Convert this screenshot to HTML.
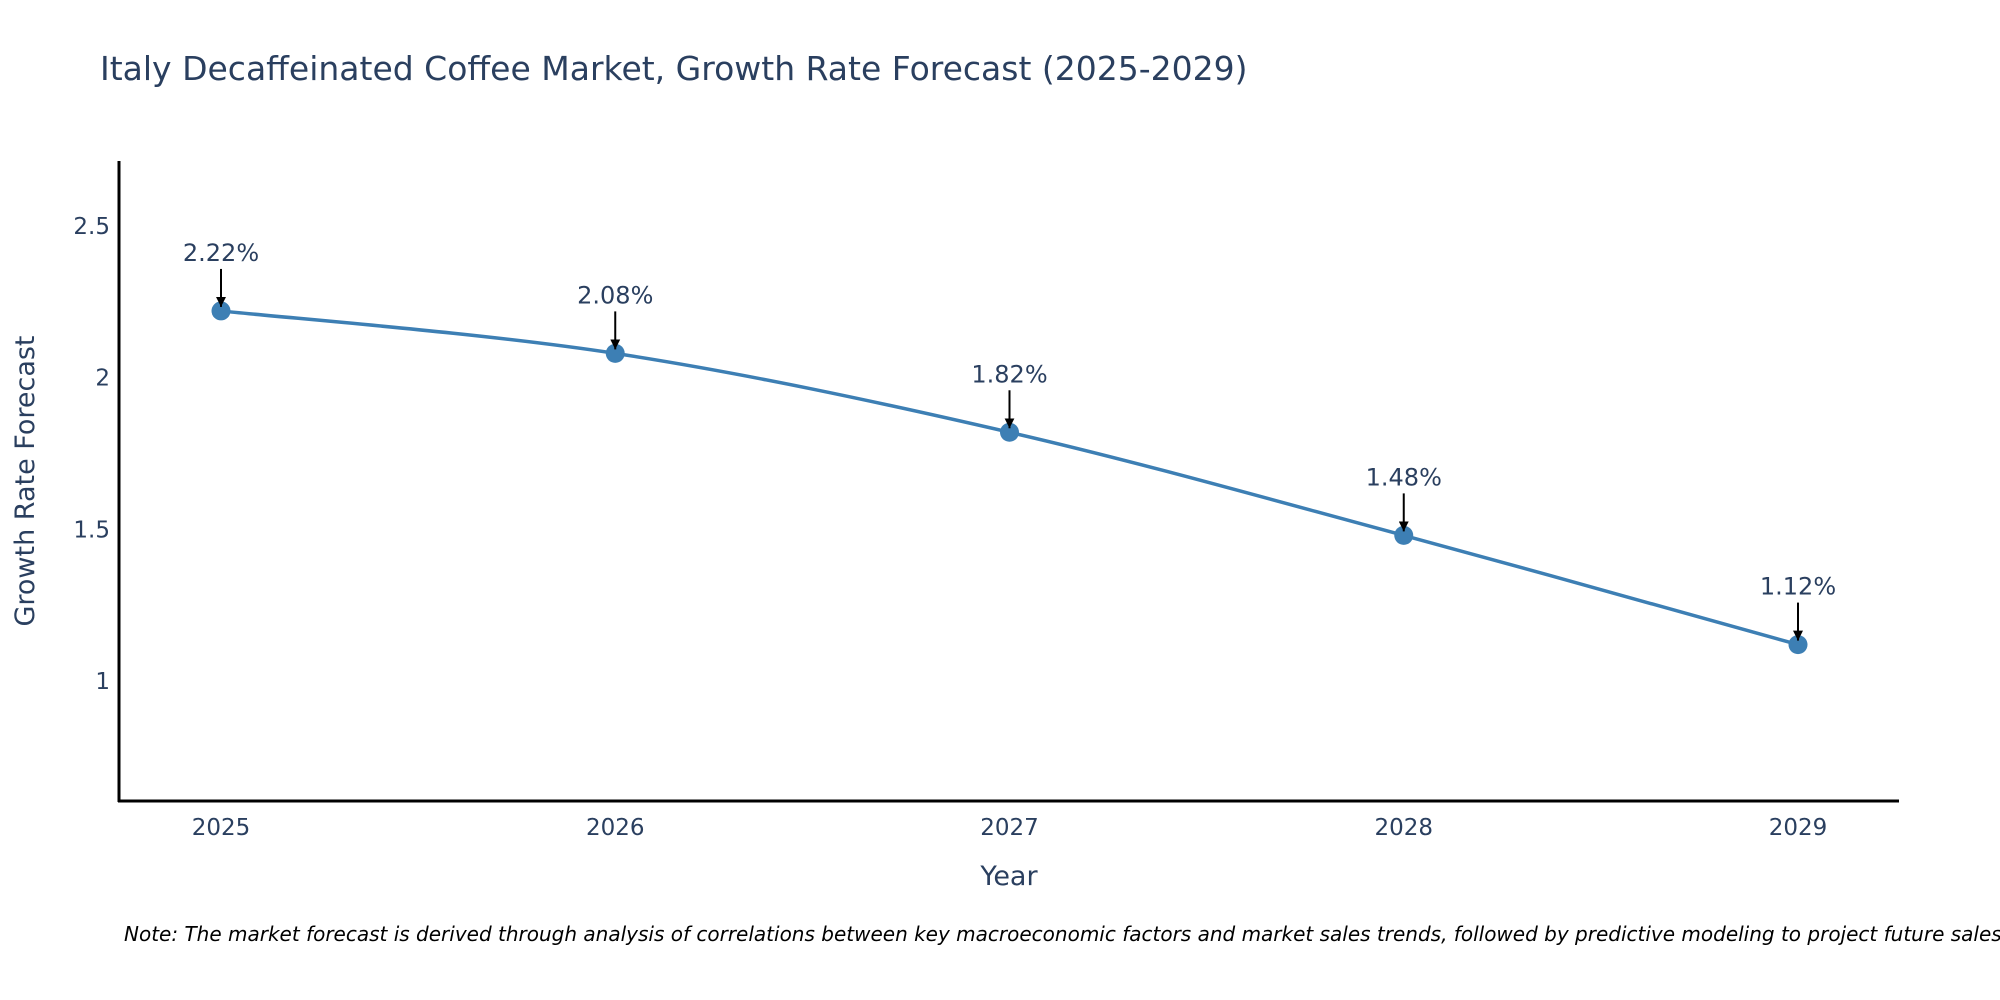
<!DOCTYPE html>
<html><head><meta charset="utf-8"><style>
html,body{margin:0;padding:0;background:#fff;overflow:hidden;}
svg{display:block;font-family:"DejaVu Sans","Liberation Sans",sans-serif;}
</style></head><body>
<svg id="chart" width="2000" height="1000" viewBox="0 0 2000 1000">
<defs><marker id="ah" viewBox="0 0 10 10" refX="10" refY="5" markerWidth="5" markerHeight="5" orient="auto"><path d="M0,0 L10,5 L0,10 z" fill="#000"/></marker></defs>
<text x="100" y="80" font-size="33" fill="#2a3f5f">Italy Decaffeinated Coffee Market, Growth Rate Forecast (2025-2029)</text>
<g id="yticks"></g><g id="xticks"></g>
<line x1="119" y1="161" x2="119" y2="802" stroke="#000" stroke-width="3"/>
<line x1="118" y1="801" x2="1899" y2="801" stroke="#000" stroke-width="3"/>
<path id="line" fill="none" stroke="#3d7fb4" stroke-width="3.5"/>
<g id="points"></g><g id="annots"></g>
<text transform="translate(34,481) rotate(-90)" text-anchor="middle" font-size="27" fill="#2a3f5f">Growth Rate Forecast</text>
<text x="1009" y="885" text-anchor="middle" font-size="27" fill="#2a3f5f">Year</text>
<text x="124" y="941" font-size="20" font-style="italic" fill="#000">Note: The market forecast is derived through analysis of correlations between key macroeconomic factors and market sales trends, followed by predictive modeling to project future sales.</text>
</svg>
<script>
const years = ["2025","2026","2027","2028","2029"];
const values = [2.22, 2.08, 1.82, 1.48, 1.12];
const yTicks = [1, 1.5, 2, 2.5];
const yTickLabels = ["1","1.5","2","2.5"];
const NS="http://www.w3.org/2000/svg";
function xs(i){return 221+(1798-221)*i/(years.length-1);}
function ys(v){return 681-(v-1)*(681-226)/1.5;}
function mk(tag,attrs,parent,txt){const e=document.createElementNS(NS,tag);for(const k in attrs)e.setAttribute(k,attrs[k]);if(txt!==undefined)e.textContent=txt;parent.appendChild(e);return e;}
const yt=document.getElementById('yticks');
yTicks.forEach((t,i)=>{const e=mk('text',{x:110,y:ys(t)+8,'text-anchor':'end','font-size':23,fill:'#2a3f5f'},yt,yTickLabels[i]);

});
const xt=document.getElementById('xticks');
years.forEach((y,i)=>{const e=mk('text',{x:xs(i),y:835,'text-anchor':'middle','font-size':23,fill:'#2a3f5f'},xt,y);

});
const P=values.map((v,i)=>[xs(i),ys(v)]);
let d=`M${P[0][0]},${P[0][1]}`;
for(let i=0;i<P.length-1;i++){const p0=P[Math.max(i-1,0)],p1=P[i],p2=P[i+1],p3=P[Math.min(i+2,P.length-1)];
const c1=[p1[0]+(p2[0]-p0[0])/6,p1[1]+(p2[1]-p0[1])/6],c2=[p2[0]-(p3[0]-p1[0])/6,p2[1]-(p3[1]-p1[1])/6];
d+=` C${c1[0]},${c1[1]} ${c2[0]},${c2[1]} ${p2[0]},${p2[1]}`;}
document.getElementById('line').setAttribute('d',d);
const pg=document.getElementById('points'),ag=document.getElementById('annots');
P.forEach((p,i)=>{const c=mk('circle',{cx:p[0],cy:p[1],r:9.5,fill:'#3d7fb4'},pg);


const a=mk('line',{x1:p[0],y1:p[1]-42,x2:p[0],y2:p[1]-4,stroke:'#000','stroke-width':2,'marker-end':'url(#ah)'},ag);


const t=mk('text',{x:p[0],y:p[1]-50,'text-anchor':'middle','font-size':24,fill:'#2a3f5f'},ag,values[i].toFixed(2)+'%');

});
</script>
</body></html>
